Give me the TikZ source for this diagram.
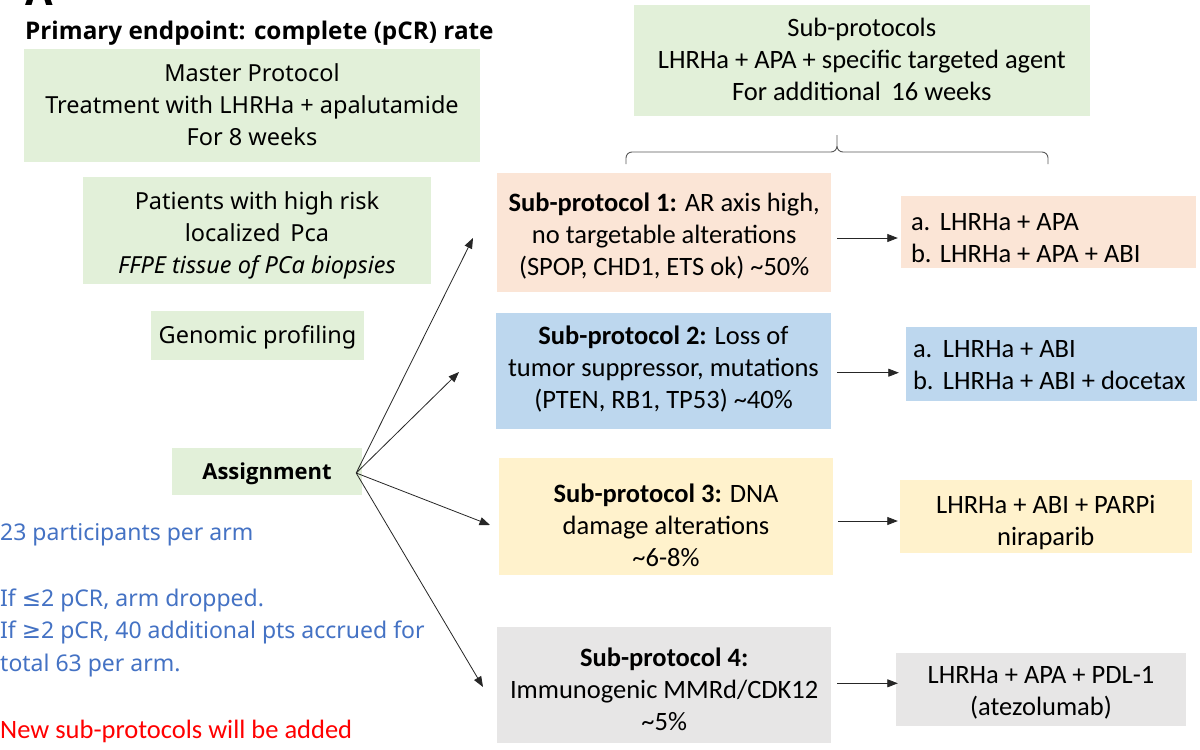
\documentclass[tikz,border=0pt]{standalone}
\usepackage{fontspec}
\setmainfont{Carlito}
\newfontfamily\uifont{Noto Sans}
\newfontfamily\uibold{Open Sans}
\newfontfamily\djv{DejaVu Sans}
\usetikzlibrary{arrows.meta}
\definecolor{bgreen}{HTML}{E2F0D9}
\definecolor{bpeach}{HTML}{FBE5D6}
\definecolor{bblue}{HTML}{BDD7EE}
\definecolor{byellow}{HTML}{FFF2CC}
\definecolor{bgray}{HTML}{E7E6E6}
\definecolor{tblue}{HTML}{4472C4}
\definecolor{bracegray}{HTML}{595959}
% text block shifted down by #2 without moving its node
\newcommand\tx[3]{\raisebox{-#2}[\height][\depth]{\begin{tabular}{@{}#1@{}}#3\end{tabular}}}
\begin{document}
\begin{tikzpicture}[x=1pt,y=-1pt,
  box/.style={fill=#1, draw=none, inner sep=0pt},
  calf/.style={font=\fontsize{26.5}{32}\selectfont},
  uif/.style={font=\uifont\fontsize{23.5}{32}\selectfont},
  arr/.style={-{Triangle[length=10.5pt,width=8pt]}, line width=0.8pt, draw=black!85},
  note/.style={anchor=base west, inner sep=0pt, text=tblue, font=\uifont\fontsize{23}{32}\selectfont}
]
\useasboundingbox (0,0) rectangle (1200,750);
\fill[white] (0,0) rectangle (1200,750);

% partial panel letter
\node[anchor=base, inner sep=0pt, font=\uibold\bfseries\fontsize{40}{40}\selectfont] (panel) at (39,5) {A};

% title
\node[anchor=base west, inner sep=0pt, font=\uibold\bfseries\fontsize{24.3}{28}\selectfont] (title) at (25,39) {Primary endpoint: complete (pCR) rate};

% left column
\node[box=bgreen, uif, minimum width=456pt, minimum height=113pt] (master) at (252,105.5)
  {\tx{c}{1.5pt}{Master Protocol\\Treatment with LHRHa + apalutamide\\For 8 weeks}};
\node[box=bgreen, uif, minimum width=348pt, minimum height=107pt] (patients) at (257,230.5)
  {\tx{c}{5pt}{Patients with high risk\\localized\ \,Pca\\\textit{FFPE tissue of PCa biopsies}}};
\node[box=bgreen, uif, minimum width=213pt, minimum height=49pt] (genomic) at (257.5,335.5)
  {\tx{c}{2pt}{Genomic profiling}};
\node[box=bgreen, font=\uibold\bfseries\fontsize{22}{32}\selectfont, minimum width=190pt, minimum height=47pt] (assign) at (267,471.5)
  {\tx{c}{1.5pt}{Assignment}};

% notes
\node[note] (n1) at (0,540.5) {23 participants per arm};
\node[note] (n2) at (0,606.5) {If {\djv ≤}2 pCR, arm dropped.};
\node[note] (n3) at (0,638.5) {If {\djv ≥}2 pCR, 40 additional pts accrued for};
\node[note] (n4) at (0,671.5) {total 63 per arm.};
\node[anchor=base west, inner sep=0pt, text=red, calf] (n5) at (0,738) {New sub-protocols will be added};

% sub-protocols header
\node[box=bgreen, calf, minimum width=456pt, minimum height=111pt] (subprot) at (861.8,60.5)
  {\tx{c}{1.5pt}{Sub-protocols\\LHRHa + APA + specific targeted agent\\For additional\ \,16 weeks}};

% brace
\coordinate (bl) at (626,164);
\coordinate (br) at (1048,164);
\coordinate (bt) at (837,135);
\draw[bracegray, line width=0.9pt]
  (bl) -- (626,158) to[out=90,in=180] (632,152) -- (831,152) to[out=0,in=-90] (bt |- 0,146) -- (bt)
  (bt |- 0,146) to[out=-90,in=180] (843,152) -- (1042,152) to[out=0,in=90] (1048,158) -- (br);

% sub-protocol boxes
\node[box=bpeach, calf, minimum width=334pt, minimum height=119pt] (sp1) at (664.2,232.5)
  {\tx{c}{4.5pt}{\textbf{Sub-protocol 1:} AR axis high,\\no targetable alterations\\(SPOP, CHD1, ETS ok) \textasciitilde50\%}};
\node[box=bblue, calf, minimum width=335pt, minimum height=116pt] (sp2) at (663.5,371)
  {\tx{c}{-0.5pt}{\textbf{Sub-protocol 2:} Loss of\\tumor suppressor, mutations\\(PTEN, RB1, TP53) \textasciitilde40\%}};
\node[box=byellow, calf, minimum width=334.5pt, minimum height=117pt] (sp3) at (666,516.5)
  {\tx{c}{12pt}{\textbf{Sub-protocol 3:} DNA\\damage alterations\\\textasciitilde6-8\%}};
\node[box=bgray, calf, minimum width=333.6pt, minimum height=116.6pt] (sp4) at (664.2,685)
  {\tx{c}{7.5pt}{\textbf{Sub-protocol 4:}\\Immunogenic MMRd/CDK12\\\textasciitilde5\%}};

% result boxes
\node[box=bpeach, calf, minimum width=295pt, minimum height=72pt] (r1) at (1048.5,232)
  {\makebox[275pt][l]{\tx{l}{8pt}{\makebox[29pt][l]{a.}LHRHa + APA\\\makebox[29pt][l]{b.}LHRHa + APA + ABI}}};
\node[box=bblue, calf, minimum width=291pt, minimum height=74pt] (r2) at (1051.5,364)
  {\makebox[277pt][l]{\tx{l}{3.5pt}{\makebox[30pt][l]{a.}LHRHa + ABI\\\makebox[30pt][l]{b.}LHRHa + ABI + docetax}}};
\node[box=byellow, calf, minimum width=291.6pt, minimum height=73pt] (r3) at (1045.8,516.5)
  {\tx{c}{7pt}{LHRHa + ABI + PARPi\\niraparib}};
\node[box=bgray, calf, minimum width=290pt, minimum height=73pt] (r4) at (1041,689)
  {\tx{c}{4pt}{LHRHa + APA + PDL-1\\(atezolumab)}};

% horizontal arrows
\draw[arr] ([xshift=6pt,yshift=-5.5pt]sp1.east) -- ([xshift=-3pt,yshift=-5.5pt]sp1.east -| r1.west);
\draw[arr] ([xshift=6pt,yshift=-1.7pt]sp2.east) -- ([xshift=-7pt,yshift=-1.7pt]sp2.east -| r2.west);
\draw[arr] ([xshift=5pt,yshift=-4.5pt]sp3.east) -- ([xshift=-2pt,yshift=-4.5pt]sp3.east -| r3.west);
\draw[arr] ([xshift=6pt,yshift=1.7pt]sp4.east) -- ([xshift=2pt,yshift=1.7pt]sp4.east -| r4.west);

% assignment fan
\coordinate (ao) at ([xshift=-6pt,yshift=-1.5pt]assign.east);
\coordinate (t1) at (473,238);
\coordinate (t2) at (459,372);
\coordinate (t3) at (490,525);
\coordinate (t4) at (483,687);
\draw[arr] (ao) -- (t1);
\draw[arr] (ao) -- (t2);
\draw[arr] (ao) -- (t3);
\draw[arr] (ao) -- (t4);
\end{tikzpicture}
\end{document}
